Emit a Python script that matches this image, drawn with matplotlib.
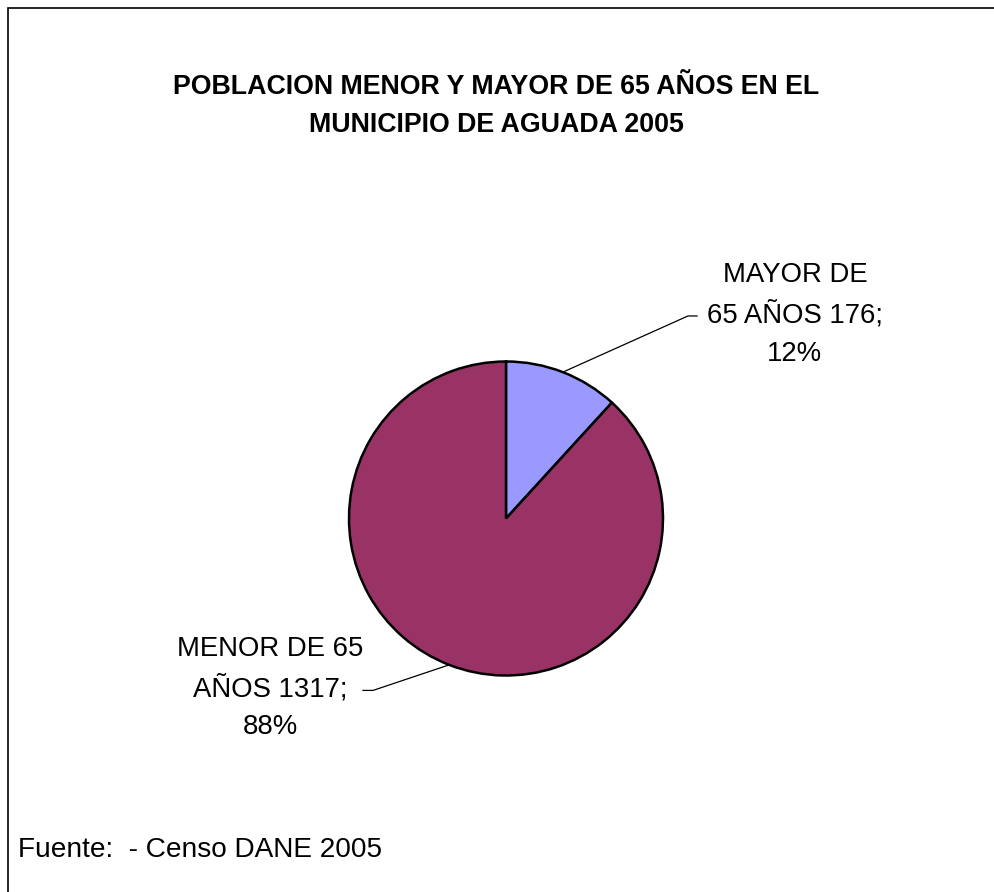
import matplotlib
matplotlib.use('Agg')
import matplotlib.pyplot as plt
import numpy as np

plt.rcParams['font.family'] = ['Liberation Sans', 'DejaVu Sans']

valores = [176, 1317]
colores = ['#9999FF', '#993366']

titulo = 'POBLACION MENOR Y MAYOR DE 65 AÑOS EN EL\nMUNICIPIO DE AGUADA 2005'
fuente = 'Fuente:  - Censo DANE 2005'

W, H = 995, 892
fig = plt.figure(figsize=(W / 100, H / 100), dpi=100)

# marco exterior (solo se ven borde superior e izquierdo)
fig.patches.append(plt.Rectangle((8 / W, -0.1), 1.2, (H - 8) / H + 0.1, transform=fig.transFigure,
                                 fill=False, edgecolor='black', linewidth=1.2))

# pie: centro (506, 518) px, radio 157 px
cx, cy, r = 506, 518.5, 157
ax = fig.add_axes([(cx - r) / W, (H - cy - r) / H, 2 * r / W, 2 * r / H])
wedges, _ = ax.pie(valores, colors=colores, startangle=90, counterclock=False,
                   wedgeprops=dict(edgecolor='black', linewidth=1.8))
ax.set_xlim(-1, 1)
ax.set_ylim(-1, 1)
ax.set_aspect('auto')
ax.axis('off')

total = sum(valores)
etiquetas = ['MAYOR DE\n65 AÑOS %d;\n%d%%' % (valores[0], round(100 * valores[0] / total)),
             'MENOR DE 65\nAÑOS %d;\n%d%%' % (valores[1], round(100 * valores[1] / total))]

# posición de texto y codo de la línea guía (coordenadas de datos del pie)
texto_pos = [(1.84, 1.30), (-1.50, -1.08)]
codo = [(1.159, 1.29), (-0.847, -1.095)]
fin = [(1.217, 1.29), (-0.911, -1.095)]

for w, lab, tp, cd, fn in zip(wedges, etiquetas, texto_pos, codo, fin):
    ang = np.deg2rad((w.theta1 + w.theta2) / 2)
    ancla = (np.cos(ang), np.sin(ang))
    ax.plot([ancla[0], cd[0], fn[0]], [ancla[1], cd[1], fn[1]], color='black',
            linewidth=0.9, clip_on=False)
    ax.text(tp[0], tp[1], lab, ha='center', va='center', fontsize=19.8,
            linespacing=1.6, clip_on=False)

fig.text(496 / W, 1 - 106 / H, titulo, ha='center', va='center', fontsize=19.3,
         fontweight='bold', linespacing=1.6)
fig.text(18 / W, 1 - 850 / H, fuente, ha='left', va='center', fontsize=20.2)

fig.savefig('out.png', dpi=100)
